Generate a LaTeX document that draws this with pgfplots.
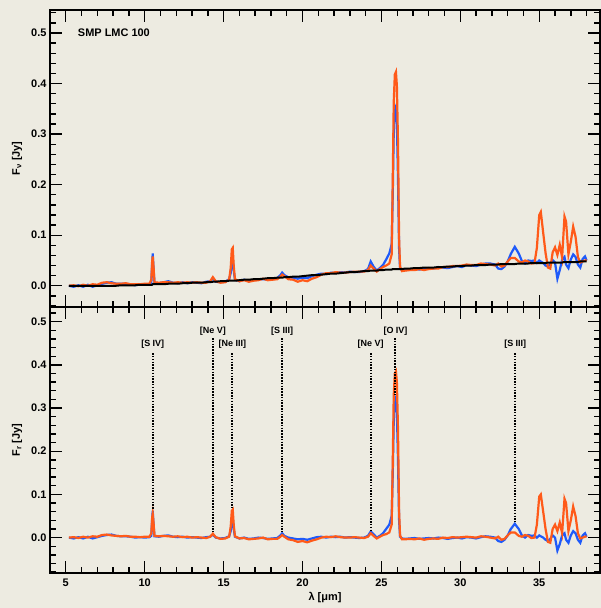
\documentclass[border=0pt]{standalone}
\usepackage{fontspec}
\setmainfont{Liberation Sans}
\usepackage{pgfplots}
\pgfplotsset{compat=1.18}
\usepackage{pgfplotstable}
\definecolor{bg}{RGB}{237,235,225}
\definecolor{sblue}{RGB}{30,90,250}
\definecolor{sorange}{RGB}{255,90,25}

\pgfplotstableread{
x c bb ob bt ot
5.2 0.000 0.000 0.000 0.000 0.000
5.5 0.000 -0.002 0.001 -0.002 0.001
5.8 0.000 0.001 -0.001 0.001 -0.001
6.1 0.000 -0.002 0.002 -0.002 0.002
6.4 0.000 0.002 0.000 0.002 0.000
6.7 0.000 -0.002 0.003 -0.002 0.003
7.0 0.000 0.001 0.002 0.001 0.002
7.3 0.000 0.004 0.006 0.004 0.006
7.6 0.000 0.006 0.007 0.006 0.007
7.9 0.000 0.007 0.005 0.007 0.005
8.2 0.000 0.004 0.004 0.004 0.004
8.5 0.001 0.003 0.003 0.004 0.004
8.8 0.001 0.003 0.004 0.004 0.005
9.1 0.001 0.002 0.002 0.003 0.003
9.4 0.001 0.000 0.002 0.001 0.003
9.7 0.002 0.001 0.001 0.003 0.003
10.0 0.002 0.000 0.002 0.002 0.004
10.3 0.002 0.001 0.002 0.003 0.004
10.42 0.002 0.004 0.010 0.006 0.012
10.47 0.002 0.040 0.045 0.042 0.047
10.51 0.003 0.062 0.055 0.064 0.058
10.56 0.003 0.030 0.035 0.033 0.038
10.62 0.003 0.003 0.004 0.006 0.007
10.9 0.003 0.002 0.003 0.005 0.006
11.2 0.003 0.004 0.004 0.007 0.007
11.5 0.004 0.005 0.003 0.009 0.007
11.8 0.004 0.002 0.002 0.006 0.006
12.1 0.004 0.001 0.003 0.005 0.007
12.4 0.005 0.002 0.001 0.007 0.006
12.7 0.005 0.000 0.002 0.005 0.007
13.0 0.006 0.001 0.000 0.007 0.006
13.3 0.006 0.000 0.001 0.006 0.007
13.6 0.006 -0.001 0.000 0.005 0.006
13.9 0.007 0.001 -0.001 0.008 0.006
14.15 0.007 0.002 0.002 0.009 0.009
14.32 0.008 0.007 0.009 0.015 0.017
14.5 0.008 0.000 0.001 0.008 0.009
14.8 0.009 -0.002 -0.003 0.007 0.006
15.1 0.009 -0.001 -0.002 0.008 0.007
15.35 0.010 0.003 0.002 0.013 0.012
15.45 0.010 0.015 0.025 0.025 0.035
15.52 0.010 0.040 0.062 0.050 0.072
15.58 0.010 0.045 0.065 0.055 0.075
15.64 0.010 0.020 0.030 0.030 0.040
15.72 0.010 0.002 0.003 0.012 0.013
16.0 0.011 -0.002 -0.002 0.009 0.009
16.3 0.012 0.000 -0.001 0.012 0.011
16.6 0.012 -0.003 -0.004 0.009 0.008
16.9 0.013 -0.002 -0.003 0.011 0.010
17.2 0.013 0.000 -0.002 0.013 0.011
17.5 0.014 -0.001 0.000 0.013 0.014
17.8 0.015 -0.003 -0.004 0.012 0.011
18.1 0.015 -0.002 -0.003 0.013 0.012
18.4 0.016 -0.001 -0.003 0.015 0.013
18.6 0.016 0.005 0.002 0.021 0.018
18.71 0.016 0.010 0.006 0.026 0.022
18.85 0.017 0.004 0.002 0.021 0.019
19.1 0.017 0.000 -0.004 0.017 0.013
19.4 0.018 -0.002 -0.006 0.016 0.012
19.7 0.018 -0.004 -0.010 0.014 0.008
20.0 0.019 -0.003 -0.008 0.016 0.011
20.3 0.020 -0.005 -0.011 0.015 0.009
20.6 0.021 -0.002 -0.007 0.019 0.014
20.9 0.021 0.001 -0.004 0.022 0.017
21.2 0.022 0.002 0.000 0.024 0.022
21.5 0.023 0.000 0.002 0.023 0.025
21.8 0.024 0.002 0.001 0.026 0.025
22.1 0.024 0.001 0.003 0.025 0.027
22.4 0.025 0.002 0.001 0.027 0.026
22.7 0.026 0.000 0.000 0.026 0.026
23.0 0.027 0.001 0.000 0.028 0.027
23.3 0.027 0.000 0.001 0.027 0.028
23.6 0.028 -0.001 0.000 0.027 0.028
23.9 0.029 0.000 -0.001 0.029 0.028
24.15 0.029 0.004 0.002 0.033 0.031
24.32 0.030 0.014 0.010 0.048 0.040
24.5 0.030 0.008 0.004 0.038 0.034
24.7 0.030 0.000 -0.002 0.030 0.028
24.9 0.031 0.004 0.002 0.035 0.033
25.1 0.031 0.010 0.006 0.041 0.037
25.3 0.032 0.020 0.008 0.052 0.040
25.5 0.032 0.030 0.012 0.064 0.044
25.65 0.032 0.050 0.030 0.082 0.062
25.72 0.033 0.150 0.180 0.183 0.213
25.78 0.033 0.270 0.330 0.303 0.363
25.85 0.033 0.320 0.380 0.350 0.418
25.92 0.033 0.325 0.385 0.355 0.423
25.98 0.033 0.290 0.360 0.323 0.395
26.05 0.033 0.180 0.250 0.213 0.283
26.12 0.033 0.040 0.060 0.073 0.093
26.18 0.033 0.002 0.005 0.035 0.038
26.3 0.033 -0.002 -0.004 0.031 0.029
26.5 0.034 -0.003 -0.004 0.031 0.030
26.8 0.034 -0.002 -0.003 0.032 0.031
27.1 0.035 -0.001 -0.004 0.034 0.031
27.4 0.035 -0.003 -0.002 0.032 0.033
27.7 0.036 -0.002 -0.005 0.034 0.031
28.0 0.036 -0.001 -0.003 0.035 0.033
28.3 0.036 -0.002 -0.002 0.034 0.034
28.6 0.037 0.000 -0.003 0.037 0.034
28.9 0.037 -0.001 0.000 0.036 0.037
29.2 0.038 -0.003 -0.001 0.035 0.037
29.5 0.038 -0.001 0.001 0.037 0.039
29.8 0.039 0.000 0.000 0.039 0.039
30.1 0.039 -0.002 0.001 0.037 0.040
30.4 0.040 0.001 0.002 0.041 0.042
30.7 0.040 0.000 0.001 0.040 0.041
31.0 0.041 -0.002 0.000 0.039 0.041
31.3 0.041 0.001 0.003 0.042 0.044
31.6 0.041 0.003 0.002 0.044 0.043
31.9 0.042 0.002 0.000 0.044 0.042
32.2 0.042 0.000 -0.002 0.042 0.040
32.4 0.042 -0.008 0.002 0.034 0.044
32.6 0.043 -0.010 -0.005 0.033 0.038
32.8 0.043 -0.005 -0.003 0.038 0.040
33.0 0.043 0.005 0.005 0.048 0.048
33.2 0.043 0.020 0.012 0.063 0.055
33.45 0.043 0.032 0.012 0.077 0.055
33.7 0.044 0.020 0.004 0.064 0.048
33.9 0.044 0.005 0.002 0.049 0.046
34.1 0.044 0.000 0.006 0.044 0.050
34.3 0.044 0.006 0.004 0.050 0.048
34.5 0.045 0.004 -0.001 0.049 0.044
34.7 0.045 0.005 0.000 0.050 0.045
34.85 0.045 0.000 0.030 0.045 0.075
35.0 0.045 0.005 0.095 0.050 0.140
35.1 0.045 0.003 0.100 0.048 0.146
35.25 0.045 0.000 0.060 0.045 0.105
35.4 0.045 -0.005 0.020 0.040 0.065
35.55 0.046 -0.008 -0.010 0.038 0.036
35.7 0.046 -0.003 -0.012 0.043 0.034
35.85 0.046 0.005 0.020 0.051 0.066
36.0 0.046 0.000 0.030 0.046 0.076
36.15 0.046 -0.030 0.015 0.014 0.061
36.3 0.046 -0.015 0.035 0.031 0.081
36.45 0.046 0.005 0.010 0.051 0.056
36.6 0.047 0.010 0.090 0.057 0.137
36.7 0.047 -0.005 0.080 0.042 0.127
36.85 0.047 -0.012 0.015 0.035 0.062
37.0 0.047 0.005 0.040 0.052 0.087
37.15 0.047 0.015 0.072 0.062 0.117
37.3 0.047 0.010 0.050 0.057 0.097
37.45 0.047 -0.005 0.010 0.042 0.057
37.6 0.048 -0.012 -0.002 0.036 0.046
37.75 0.048 0.005 0.000 0.053 0.048
37.9 0.048 0.010 0.002 0.058 0.050
38.0 0.048 0.002 0.003 0.050 0.051
}\spec

\newcommand{\lbl}{\fontsize{11}{12}\selectfont\bfseries}
\pgfplotsset{
  panel/.style={
    scale only axis, width=550bp,
    xmin=4, xmax=38.85,
    xtick={5,10,15,20,25,30,35}, minor xtick={4,5,...,38},
    ytick={0,0.1,0.2,0.3,0.4,0.5},
    tick align=inside, major tick length=12bp, minor tick length=6bp,
    axis line style={line width=1.6bp},
    every tick/.style={black, line width=1.4bp},
    tick label style={font=\lbl},
    yticklabel style={/pgf/number format/.cd, fixed, fixed zerofill, precision=1},
    /pgf/number format/assume math mode=true,
    every axis y label/.style={at={(axis description cs:-0.06,0.5)}, rotate=90, anchor=center, font=\lbl},
    every axis x label/.style={at={(axis description cs:0.5,-0.094)}, anchor=center, font=\lbl},
    xticklabel style={yshift=-2bp},
  },
  spec/.style={line width=2.2bp, no marks},
  vl/.style={black, line width=2bp, dash pattern=on 1.5bp off 1.3bp, no marks},
}

\begin{document}
\begin{tikzpicture}
\useasboundingbox (0,0) rectangle (601bp,608bp);
\fill[bg] (0,0) rectangle (601bp,608bp);

% Top panel
\begin{axis}[panel, at={(50bp,301bp)}, anchor=south west, height=297bp,
  ymin=-0.042, ymax=0.5455,
  minor ytick={-0.04,-0.02,0.02,0.04,0.06,0.08,0.12,0.14,0.16,0.18,0.22,0.24,0.26,0.28,0.32,0.34,0.36,0.38,0.42,0.44,0.46,0.48,0.52,0.54},
  xticklabels={},
  ylabel={F\textsubscript{ν} [Jy]}]
\addplot[spec, sblue] table[x=x, y=bt] {\spec};
\addplot[spec, sorange] table[x=x, y=ot] {\spec};
\addplot[black, line width=2bp, no marks] table[x=x, y=c] {\spec};
\node[anchor=west, font=\lbl] at (axis cs:5.55,0.5) {SMP LMC 100};
\end{axis}

% Bottom panel
\begin{axis}[panel, at={(50bp,35bp)}, anchor=south west, height=266bp,
  ymin=-0.082, ymax=0.534,
  minor ytick={-0.08,-0.06,-0.04,-0.02,0.02,0.04,0.06,0.08,0.12,0.14,0.16,0.18,0.22,0.24,0.26,0.28,0.32,0.34,0.36,0.38,0.42,0.44,0.46,0.48,0.52},
  xlabel={λ [μm]},
  ylabel={F\textsubscript{r} [Jy]}]
\addplot[spec, sblue] table[x=x, y=bb] {\spec};
\addplot[spec, sorange] table[x=x, y=ob] {\spec};
\addplot[vl] coordinates {(10.51,0.427) (10.51,0.066)};
\addplot[vl] coordinates {(14.32,0.462) (14.32,0.012)};
\addplot[vl] coordinates {(15.56,0.427) (15.56,0.068)};
\addplot[vl] coordinates {(18.71,0.462) (18.71,0.012)};
\addplot[vl] coordinates {(24.32,0.427) (24.32,0.016)};
\addplot[vl] coordinates {(25.89,0.462) (25.89,0.33)};
\addplot[vl] coordinates {(33.48,0.427) (33.48,0.035)};
\begin{scope}[every node/.style={font=\fontsize{9}{10}\selectfont\bfseries, inner sep=0pt}]
\node at (axis cs:10.51,0.447) {[S IV]};
\node at (axis cs:14.32,0.477) {[Ne V]};
\node at (axis cs:15.56,0.447) {[Ne III]};
\node at (axis cs:18.71,0.477) {[S III]};
\node at (axis cs:24.32,0.447) {[Ne V]};
\node at (axis cs:25.89,0.477) {[O IV]};
\node at (axis cs:33.48,0.447) {[S III]};
\end{scope}
\end{axis}
\end{tikzpicture}
\end{document}
